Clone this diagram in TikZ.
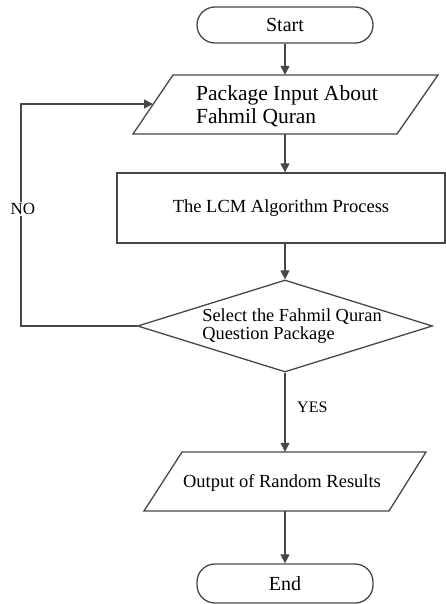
\documentclass[tikz,border=0pt]{standalone}
\usepackage{fontspec}
\setmainfont{Liberation Serif}
\usetikzlibrary{arrows.meta,shapes.geometric}
\begin{document}
\begin{tikzpicture}[x=1pt,y=-1pt,
  line/.style={draw=black!72, line width=1.3pt},
  arr/.style={line, -{Triangle[width=9pt,length=9pt]}},
  term/.style={line, rounded corners=18pt, minimum width=176pt, inner sep=0pt, font=\fontsize{20}{20}\selectfont},
  txt/.style={inner sep=0pt, font=\fontsize{18.5}{18.5}\selectfont},
  ghost/.style={inner sep=0pt, draw=none}]
\useasboundingbox[fill=white] (0,0) rectangle (446,604);

% Start
\node[term, draw, minimum height=36pt] (start) at (285,25) {Start};

% Input parallelogram
\draw[line] (173,75) -- (438,75) -- (397,134) -- (133,134) -- cycle;
\node[ghost, minimum width=264pt, minimum height=59pt] (in) at (285,104.5) {};
\node[txt, anchor=west, align=left, font=\fontsize{21.5}{23}\selectfont] (intext) at (196,106.5) {Package Input About\\Fahmil Quran};
\coordinate (noin) at (153,104);

% Process
\node[line, draw, txt, minimum width=328pt, minimum height=70pt] (proc) at (281,208) {The LCM Algorithm Process};

% Decision
\node[line, draw, shape=diamond, minimum width=295pt, minimum height=92pt, inner sep=0pt] (dec) at (285,326) {};
\node[txt, align=left, font=\fontsize{18.4}{18.5}\selectfont] (dectext) at (292,326) {Select the Fahmil Quran\\Question Package};

% Output parallelogram
\draw[line] (182,452) -- (426,452) -- (389,511) -- (144,511) -- cycle;
\node[ghost, minimum width=244pt, minimum height=59pt] (out) at (285,481.5) {};
\node[txt] (outtext) at (282,483) {Output of Random Results};

% End
\node[term, draw, minimum height=39pt] (end) at (285,583.5) {End};

% Connectors
\draw[arr] (start.south) -- (in.north);
\draw[arr] (in.south) -- (in.south |- proc.north);
\draw[arr] (in.south |- proc.south) -- (dec.north);
\draw[arr] (dec.south) -- (out.north);
\draw[arr] (out.south) -- (end.north);
\draw[arr] (dec.west) -- (21,326) -- (21,104) -- (noin);

% Labels
\node[txt, fill=white, inner sep=1pt, font=\fontsize{17}{17}\selectfont] (no) at (23,209) {NO};
\node[txt, anchor=west, font=\fontsize{16}{16}\selectfont] (yes) at (297,407) {YES};
\end{tikzpicture}
\end{document}
